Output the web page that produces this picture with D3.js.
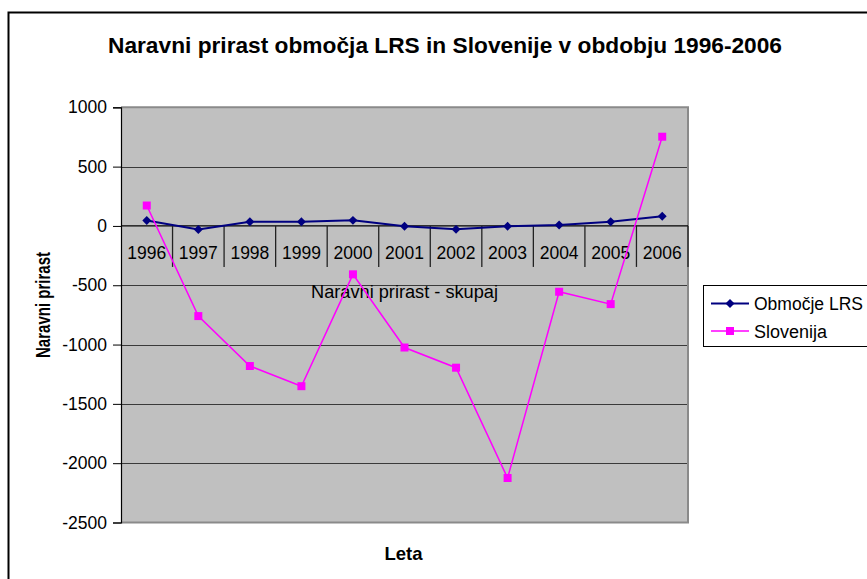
<!DOCTYPE html>
<html>
<head>
<meta charset="utf-8">
<script src="https://cdn.jsdelivr.net/npm/d3@7/dist/d3.min.js"></script>
<style>
  html, body { margin: 0; padding: 0; background: #fff; }
  svg { display: block; font-family: "Liberation Sans", Arial, sans-serif; }
</style>
</head>
<body>
<svg id="chart" width="867" height="579"></svg>
<script>
const years = ["1996","1997","1998","1999","2000","2001","2002","2003","2004","2005","2006"];
const lrsValues = [45, -30, 35, 35, 47, -3, -29, -3, 8, 35, 81];
const sloValues = [172, -760, -1181, -1351, -408, -1025, -1195, -2125, -555, -659, 752];
const yTicks = [1000, 500, 0, -500, -1000, -1500, -2000, -2500];
const seriesNames = ["Območje LRS", "Slovenija"];
const titleText = "Naravni prirast območja LRS in Slovenije v obdobju 1996-2006";
const yTitle = "Naravni prirast";
const xTitle = "Leta";
const axisCaption = "Naravni prirast - skupaj";

const svg = d3.select("#chart");
const L = 121, R = 688, T = 107.3, B = 522.5;
const FS = 17.5;

// outer frame
svg.append("rect").attr("x", 8.5).attr("y", 12.5).attr("width", 1000).attr("height", 1000)
  .attr("fill", "#fff").attr("stroke", "#000").attr("stroke-width", 2);

// title
svg.append("text").attr("x", 445).attr("y", 53).attr("text-anchor", "middle")
  .attr("font-size", 22).attr("font-weight", "bold")
  .attr("textLength", 674).attr("lengthAdjust", "spacingAndGlyphs")
  .text(titleText);

const x = d3.scaleBand().domain(years).range([L, R]);
const y = d3.scaleLinear().domain([-2500, 1000]).range([B, T]);

// plot background
svg.append("rect").attr("x", L).attr("y", T).attr("width", R - L).attr("height", B - T)
  .attr("fill", "#C0C0C0");

// gridlines
svg.append("g").selectAll("line").data(yTicks.filter(v => v !== 0 && v !== -2500 && v !== 1000)).join("line")
  .attr("x1", L).attr("x2", R)
  .attr("y1", d => Math.round(y(d)) + 0.5).attr("y2", d => Math.round(y(d)) + 0.5)
  .attr("stroke", "#3a3a3a").attr("stroke-width", 1);

// plot border (top, right, bottom) gray
svg.append("path")
  .attr("d", `M${L},${T}H${R}V${B}H${L}`)
  .attr("fill", "none").attr("stroke", "#8a8a8a").attr("stroke-width", 2);

// y axis
const yAxis = d3.axisLeft(y).tickValues(yTicks).tickSize(8).tickPadding(6).tickFormat(d => String(d));
const gy = svg.append("g").attr("transform", `translate(${L},0)`).call(yAxis);
gy.select(".domain").attr("stroke", "#000").attr("stroke-width", 1.2);
gy.selectAll(".tick line").attr("stroke", "#000");
gy.selectAll(".tick text").attr("font-size", FS).attr("fill", "#000")
  .attr("font-family", "Liberation Sans, Arial, sans-serif");

// x axis at zero
const x0 = y(0);
const xAxis = d3.axisBottom(x).tickSize(0).tickPadding(0);
const gx = svg.append("g").attr("transform", `translate(0,${x0})`).call(xAxis);
gx.select(".domain").remove();
gx.selectAll(".tick text").attr("font-size", FS).attr("fill", "#000")
  .attr("y", 33).attr("dy", 0)
  .attr("font-family", "Liberation Sans, Arial, sans-serif");
svg.append("line").attr("x1", L).attr("x2", R).attr("y1", x0).attr("y2", x0)
  .attr("stroke", "#000").attr("stroke-width", 1.2);
// category separators
const seps = years.slice(1).map(v => x(v)).concat([R]);
svg.append("g").selectAll("line").data(seps).join("line")
  .attr("x1", d => d).attr("x2", d => d)
  .attr("y1", x0).attr("y2", x0 + 41)
  .attr("stroke", "#222").attr("stroke-width", 1.3);

// axis caption
svg.append("text").attr("x", (L + R) / 2).attr("y", 298).attr("text-anchor", "middle")
  .attr("font-size", 18).attr("textLength", 187).attr("lengthAdjust", "spacingAndGlyphs")
  .text(axisCaption);

// axis titles
svg.append("text").attr("x", (L + R) / 2 - 1).attr("y", 560).attr("text-anchor", "middle")
  .attr("font-size", 18.5).attr("font-weight", "bold").text(xTitle);
svg.append("text").attr("transform", "translate(50,305) rotate(-90)").attr("text-anchor", "middle")
  .attr("font-size", 20).attr("font-weight", "bold")
  .attr("textLength", 106).attr("lengthAdjust", "spacingAndGlyphs").text(yTitle);

// lines
const cx = d => x(d) + x.bandwidth() / 2;
const line = d3.line().x(d => cx(d[0])).y(d => y(d[1]));
const lrs = years.map((yr, i) => [yr, lrsValues[i]]);
const slo = years.map((yr, i) => [yr, sloValues[i]]);

svg.append("path").datum(lrs).attr("d", line).attr("fill", "none")
  .attr("stroke", "#000080").attr("stroke-width", 2);
svg.append("path").datum(slo).attr("d", line).attr("fill", "none")
  .attr("stroke", "#FF00FF").attr("stroke-width", 1.5);

const square = d3.symbol().type(d3.symbolSquare).size(64);
const diamond = d3.symbol().type(d3.symbolSquare).size(40);

svg.append("g").selectAll("path").data(lrs).join("path")
  .attr("d", diamond)
  .attr("transform", d => `translate(${cx(d[0])},${y(d[1])}) rotate(45)`)
  .attr("fill", "#000080");
svg.append("g").selectAll("path").data(slo).join("path")
  .attr("transform", d => `translate(${cx(d[0])},${y(d[1])})`)
  .attr("d", square).attr("fill", "#FF00FF");

// legend
const lg = svg.append("g");
lg.append("rect").attr("x", 703.5).attr("y", 285.5).attr("width", 200).attr("height", 61)
  .attr("fill", "#fff").attr("stroke", "#000").attr("stroke-width", 1);
const legendColors = ["#000080", "#FF00FF"];
const rows = [303.5, 331];
seriesNames.forEach((name, i) => {
  lg.append("line").attr("x1", 711).attr("x2", 749).attr("y1", rows[i]).attr("y2", rows[i])
    .attr("stroke", legendColors[i]).attr("stroke-width", i === 0 ? 2 : 1.5);
  lg.append("path")
    .attr("transform", i === 0 ? `translate(730,${rows[i]}) rotate(45)` : `translate(730,${rows[i]})`)
    .attr("d", i === 0 ? diamond : square).attr("fill", legendColors[i]);
  const t = lg.append("text").attr("x", 754).attr("y", rows[i] + 6.5).attr("font-size", 18).text(name);
  if (i === 0) t.attr("textLength", 109).attr("lengthAdjust", "spacingAndGlyphs");
});
</script>
</body>
</html>
